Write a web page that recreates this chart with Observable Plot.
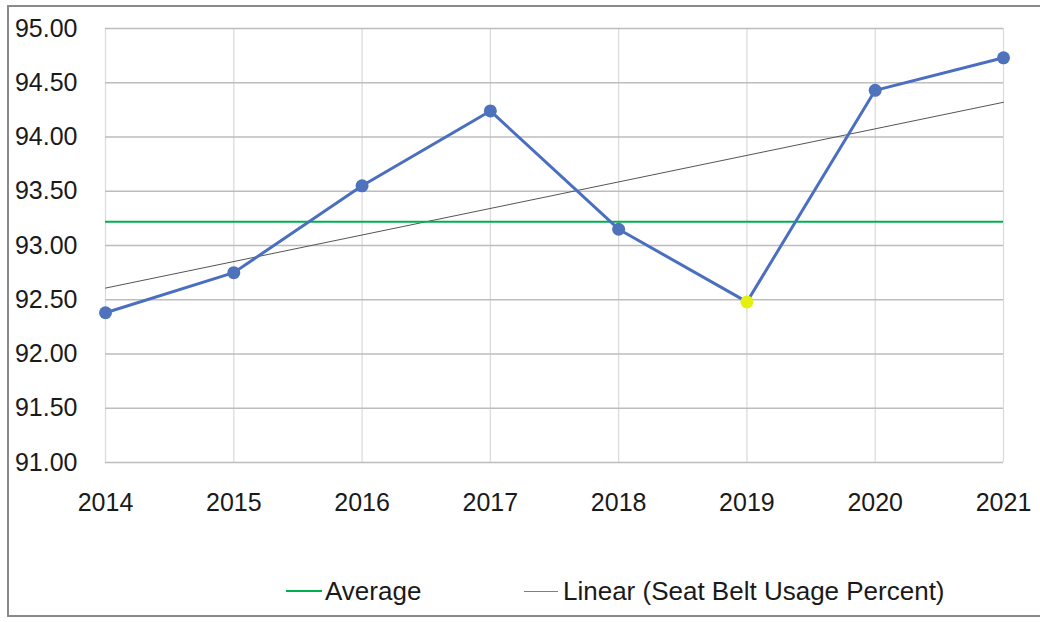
<!DOCTYPE html>
<html>
<head>
<meta charset="utf-8">
<script src="https://cdn.jsdelivr.net/npm/d3@7"></script>
<script src="https://cdn.jsdelivr.net/npm/@observablehq/plot@0.6"></script>
<style>
  html, body { margin: 0; padding: 0; background: #fff; overflow: hidden; }
  body { width: 1040px; height: 622px; position: relative; font-family: "Liberation Sans", Arial, sans-serif; color: #1a1a1a; }
  #frame { position: absolute; left: 7px; top: 5px; width: 1100px; height: 612px; border: 2px solid #8a8a8a; box-sizing: border-box; }
  #chart { position: absolute; left: 0; top: 0; }
  #legend { position: absolute; top: 576px; left: 0; width: 1040px; height: 30px; font-size: 26px; }
  .item { position: absolute; top: 0; display: flex; align-items: center; height: 30px; }
  .sw { display: inline-block; height: 0; margin-right: 3px; }
</style>
</head>
<body>
<div id="frame"></div>
<div id="chart"></div>
<div id="legend">
  <div class="item" style="left:286px"><span class="sw" style="width:36px;border-top:2px solid #00b050"></span><span>Average</span></div>
  <div class="item" style="left:524px"><span class="sw" style="width:34px;border-top:1px solid #7f7f7f;margin-right:5px"></span><span>Linear (Seat Belt Usage Percent)</span></div>
</div>
<script>
const years = [2014, 2015, 2016, 2017, 2018, 2019, 2020, 2021];
const usage = [92.38, 92.75, 93.55, 94.24, 93.15, 92.48, 94.43, 94.73];
const averageValue = 93.22;
const yTicks = [91, 91.5, 92, 92.5, 93, 93.5, 94, 94.5, 95];
const highlightYear = 2019;

const data = years.map((year, i) => ({year, value: usage[i]}));

const chart = Plot.plot({
  width: 1040,
  height: 540,
  marginLeft: 105,
  marginRight: 37,
  marginTop: 28,
  marginBottom: 78,
  style: {fontFamily: '"Liberation Sans", Arial, sans-serif', fontSize: "25px", color: "#1a1a1a", background: "transparent"},
  x: {type: "linear", domain: [2014, 2021], label: null},
  y: {domain: [91, 95], label: null},
  marks: [
    Plot.ruleX(years, {stroke: "#dadada", strokeWidth: 1.2}),
    Plot.ruleY(yTicks, {stroke: "#bdbdbd", strokeWidth: 1.5}),
    Plot.axisY({ticks: yTicks, tickSize: 0, tickPadding: 28, tickFormat: d => d.toFixed(2), fontSize: 25, label: null}),
    Plot.axisX({ticks: years, tickSize: 0, tickPadding: 31, tickFormat: d => String(d), fontSize: 25, label: null}),
    Plot.linearRegressionY(data, {x: "year", y: "value", stroke: "#555555", strokeWidth: 1, ci: 0}),
    Plot.ruleY([averageValue], {stroke: "#00b050", strokeWidth: 2}),
    Plot.line(data, {x: "year", y: "value", stroke: "#4a6fc0", strokeWidth: 3}),
    Plot.dot(data, {x: "year", y: "value", r: 6.5, stroke: "none", fill: d => d.year === highlightYear ? "#e4f00f" : "#4f72bd"})
  ]
});
document.getElementById("chart").appendChild(chart);
</script>
</body>
</html>
